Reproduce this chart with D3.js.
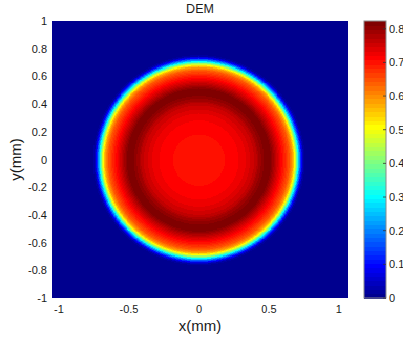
<!DOCTYPE html>
<html>
<head>
<meta charset="utf-8">
<script src="https://cdn.jsdelivr.net/npm/d3@7"></script>
<style>
  body { margin: 0; background: #fff; }
  text { font-family: "Liberation Sans", Arial, sans-serif; fill: #1a1a1a; }
</style>
</head>
<body>
<div id="chart"></div>
<script>
// radial height profile (radius in mm -> height)
const radii = [
  0.00, 0.01, 0.02, 0.03, 0.04, 0.05, 0.06, 0.07, 0.08, 0.09,
  0.10, 0.11, 0.12, 0.13, 0.14, 0.15, 0.16, 0.17, 0.18, 0.19,
  0.20, 0.21, 0.22, 0.23, 0.24, 0.25, 0.26, 0.27, 0.28, 0.29,
  0.30, 0.31, 0.32, 0.33, 0.34, 0.35, 0.36, 0.37, 0.38, 0.39,
  0.40, 0.41, 0.42, 0.43, 0.44, 0.45, 0.46, 0.47, 0.48, 0.49,
  0.50, 0.51, 0.52, 0.53, 0.54, 0.55, 0.56, 0.57, 0.58, 0.59,
  0.600, 0.605, 0.610, 0.615, 0.620, 0.625, 0.630, 0.635, 0.640, 0.645,
  0.650, 0.655, 0.660, 0.665, 0.670, 0.675, 0.680, 0.685, 0.690, 0.695,
  0.700, 0.705, 0.710, 0.715, 0.720, 0.725, 0.730, 0.735, 0.740, 0.745,
  0.750, 0.755, 0.760, 0.765
];
const heights = [
  0.701, 0.701, 0.701, 0.701, 0.702, 0.702, 0.702, 0.702, 0.703, 0.703,
  0.703, 0.704, 0.704, 0.704, 0.705, 0.705, 0.706, 0.706, 0.707, 0.708,
  0.709, 0.710, 0.711, 0.712, 0.713, 0.714, 0.715, 0.717, 0.719, 0.721,
  0.723, 0.725, 0.727, 0.730, 0.733, 0.737, 0.741, 0.746, 0.751, 0.757,
  0.764, 0.771, 0.779, 0.787, 0.795, 0.803, 0.810, 0.816, 0.821, 0.823,
  0.821, 0.815, 0.806, 0.795, 0.782, 0.768, 0.754, 0.740, 0.727, 0.715,
  0.703, 0.698, 0.692, 0.686, 0.680, 0.674, 0.667, 0.660, 0.652, 0.644,
  0.635, 0.624, 0.612, 0.598, 0.582, 0.563, 0.540, 0.510, 0.475, 0.435,
  0.390, 0.345, 0.300, 0.255, 0.210, 0.168, 0.130, 0.095, 0.065, 0.042,
  0.025, 0.013, 0.006, 0.002
];

const xTicks = [-1, -0.5, 0, 0.5, 1];
const yTicks = [1, 0.8, 0.6, 0.4, 0.2, 0, -0.2, -0.4, -0.6, -0.8, -1];
const cTicks = [0, 0.1, 0.2, 0.3, 0.4, 0.5, 0.6, 0.7, 0.8];
const xExtent = [-1.05, 1.065];
const yExtent = [-1, 1];
const gridStep = 0.0075;

const width = 403, height = 339;
const plot = { left: 52, right: 348, top: 21, bottom: 298 };
const cbar = { left: 364, right: 386 };

// matlab jet(64)
function jetMap(m) {
  const n = Math.ceil(m / 4);
  const u = [];
  for (let i = 1; i <= n; i++) u.push(i / n);
  for (let i = 1; i < n; i++) u.push(1);
  for (let i = n; i >= 1; i--) u.push(i / n);
  const off = Math.ceil(n / 2) - (m % 4 === 1 ? 1 : 0);
  const J = d3.range(m).map(() => [0, 0, 0]);
  u.forEach((v, k) => {
    const g = off + k + 1, r = g + n, b = g - n;
    if (r <= m) J[r - 1][0] = v;
    if (g <= m) J[g - 1][1] = v;
    if (b >= 1) J[b - 1][2] = v;
  });
  return J.map(c => d3.rgb(c[0] * 255, c[1] * 255, c[2] * 255).formatHex());
}
const jet = jetMap(64);
const cmax = d3.max(heights);
const colorIndex = d3.scaleQuantize().domain([0, cmax]).range(d3.range(64));
const color = v => jet[colorIndex(v)];

const x = d3.scaleLinear().domain(xExtent).range([plot.left, plot.right]);
const y = d3.scaleLinear().domain(yExtent).range([plot.bottom, plot.top]);
const c = d3.scaleLinear().domain([0, cmax]).range([plot.bottom, plot.top]);

const svg = d3.select('#chart').append('svg')
  .attr('width', width).attr('height', height);

// grid cells, each takes the nearest profile sample
const rMax = radii[radii.length - 1] + 0.0025;
const xs = d3.range(xExtent[0], xExtent[1] + 1e-9, gridStep);
const ys = d3.range(yExtent[0], yExtent[1] + 1e-9, gridStep);
const cells = [];
xs.forEach(gx => ys.forEach(gy => {
  const r = Math.hypot(gx, gy);
  if (r < rMax) cells.push({ gx, gy, v: heights[d3.bisectCenter(radii, r)] });
}));

svg.append('rect')
  .attr('x', plot.left).attr('y', plot.top)
  .attr('width', plot.right - plot.left).attr('height', plot.bottom - plot.top)
  .attr('fill', color(0));

svg.append('clipPath').attr('id', 'clip').append('rect')
  .attr('x', plot.left).attr('y', plot.top)
  .attr('width', plot.right - plot.left).attr('height', plot.bottom - plot.top);

svg.append('g').attr('clip-path', 'url(#clip)')
  .attr('shape-rendering', 'crispEdges')
  .selectAll('rect')
  .data(cells)
  .enter().append('rect')
  .attr('x', d => x(d.gx - gridStep / 2))
  .attr('y', d => y(d.gy + gridStep / 2))
  .attr('width', x(gridStep) - x(0) + 0.6)
  .attr('height', y(0) - y(gridStep) + 0.6)
  .attr('fill', d => color(d.v));

// axes labels
svg.append('g').selectAll('text').data(xTicks).enter().append('text')
  .attr('x', d => x(d)).attr('y', 313)
  .attr('text-anchor', 'middle').attr('font-size', 11)
  .text(d => String(d));

svg.append('g').selectAll('text').data(yTicks).enter().append('text')
  .attr('x', 47).attr('y', d => y(d) + 4)
  .attr('text-anchor', 'end').attr('font-size', 11)
  .text(d => String(d));

svg.append('text')
  .attr('x', (plot.left + plot.right) / 2).attr('y', 331)
  .attr('text-anchor', 'middle').attr('font-size', 15)
  .text('x(mm)');

svg.append('text')
  .attr('transform', `translate(21,${(plot.top + plot.bottom) / 2}) rotate(-90)`)
  .attr('text-anchor', 'middle').attr('font-size', 15)
  .text('y(mm)');

svg.append('text')
  .attr('x', 200).attr('y', 13)
  .attr('text-anchor', 'middle').attr('font-size', 12.5)
  .text('DEM');

// colorbar
const steps = d3.range(64);
svg.append('g').attr('shape-rendering', 'crispEdges')
  .selectAll('rect').data(steps).enter().append('rect')
  .attr('x', cbar.left)
  .attr('y', i => c((i + 1) * cmax / 64))
  .attr('width', cbar.right - cbar.left)
  .attr('height', i => c(i * cmax / 64) - c((i + 1) * cmax / 64) + 0.5)
  .attr('fill', i => jet[i]);

svg.append('rect')
  .attr('x', cbar.left).attr('y', plot.top)
  .attr('width', cbar.right - cbar.left).attr('height', plot.bottom - plot.top)
  .attr('fill', 'none').attr('stroke', '#8a8a8a').attr('stroke-width', 1);

svg.append('g').selectAll('line').data(cTicks).enter().append('line')
  .attr('x1', cbar.right - 3).attr('x2', cbar.right)
  .attr('y1', d => c(d)).attr('y2', d => c(d))
  .attr('stroke', '#333').attr('stroke-width', 0.8);

svg.append('g').selectAll('text').data(cTicks).enter().append('text')
  .attr('x', 389).attr('y', d => c(d) + 4)
  .attr('font-size', 11)
  .text(d => String(d));
</script>
</body>
</html>
